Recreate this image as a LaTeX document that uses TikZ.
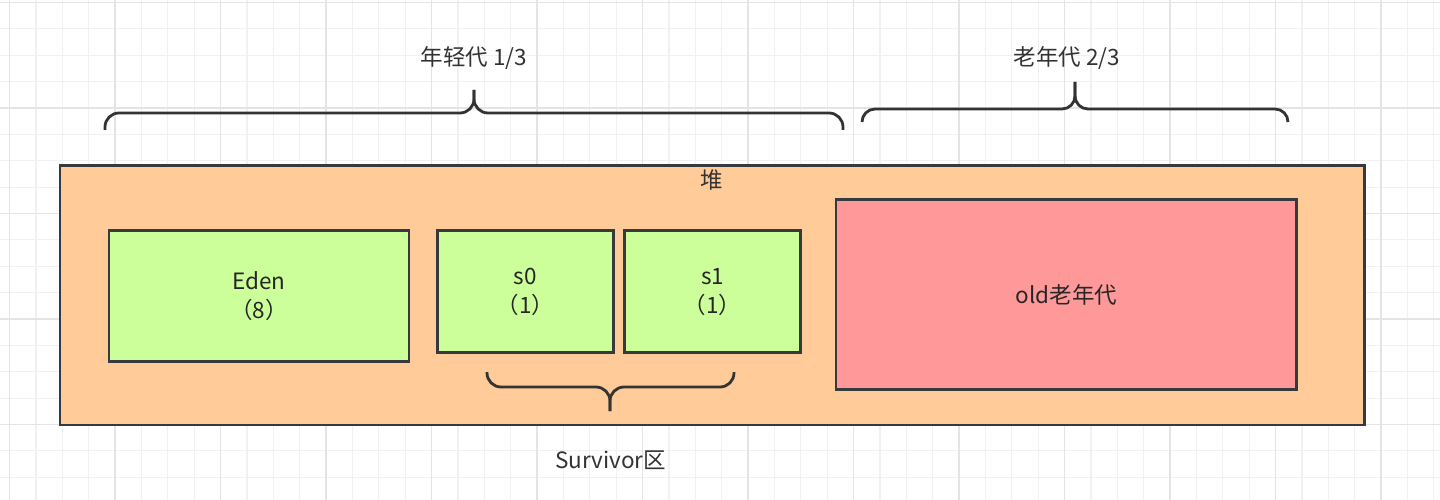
\documentclass[tikz,border=0pt]{standalone}
\usepackage{fontspec}
\setmainfont{Noto Sans CJK SC}
\definecolor{gridminor}{HTML}{F1F1F1}
\definecolor{gridmajor}{HTML}{E4E4E4}
\definecolor{strokec}{HTML}{36393D}
\definecolor{bracec}{HTML}{333333}
\definecolor{textc}{HTML}{333333}
\definecolor{innertext}{HTML}{262626}
\definecolor{heapfill}{HTML}{FFCC99}
\definecolor{greenfill}{HTML}{CCFF99}
\definecolor{oldfill}{HTML}{FF9999}
\newcommand{\lblfont}{\fontsize{22.5}{29}\selectfont}
\begin{document}
\begin{tikzpicture}[x=1pt,y=-1pt,
  minorgrid/.style={draw=gridminor, line width=1.2pt},
  majorgrid/.style={draw=gridmajor, line width=1.6pt},
  area/.style={draw=strokec, line width=2.8pt, inner sep=0pt, font=\lblfont, text=innertext, align=center},
  bracket/.style={draw=bracec, line width=2.8pt, rounded corners=14pt},
  lbl/.style={font=\lblfont, text=textc, inner sep=0pt, align=center}]
\useasboundingbox (0,0) rectangle (1440,500);
\fill[white] (0,0) rectangle (1440,500);
\begin{scope}
\clip (0,0) rectangle (1440,500);
\foreach \k in {0,...,56} {\draw[minorgrid] ({9.6+(\k-1)*26.375},0) -- ++(0,500);}
\foreach \k in {0,...,21} {\draw[minorgrid] (0,{2.5+(\k-1)*26.375}) -- ++(1440,0);}
\foreach \k in {0,...,14} {\draw[majorgrid] ({9.6+\k*105.5},0) -- ++(0,500);}
\foreach \k in {0,...,5} {\draw[majorgrid] (0,{2.5+\k*105.5}) -- ++(1440,0);}
\end{scope}

% heap
\node[area, fill=heapfill, minimum width=1304.5pt, minimum height=259.5pt] (heap) at (712.25,295.25) {};
\node[lbl] (heaplabel) at (711.7,180) {堆};

% young generation
\node[area, fill=greenfill, minimum width=300pt, minimum height=131pt] (eden) at (259,296) {Eden\\（8）};
\node[area, fill=greenfill, minimum width=176pt, minimum height=122.3pt] (s0) at (525.3,291.6) {s0\\（1）};
\node[area, fill=greenfill, minimum width=176pt, minimum height=122.3pt] (s1) at (712.5,291.6) {s1\\（1）};

% old generation
\node[area, fill=oldfill, minimum width=460.7pt, minimum height=190pt] (old) at (1066.4,294.7) {old老年代};

% top labels
\node[lbl] (younglabel) at (473.7,58) {年轻代 1/3};
\node[lbl] (oldlabel) at (1067,58.5) {老年代 2/3};
\node[lbl] (survlabel) at (610.5,460) {Survivor区};

% braces
\draw[bracket] (105,130) -- (105,113) -- (474,113) -- (474,90);
\draw[bracket] (474,90) -- (474,113) -- (843,113) -- (843,130);
\draw[bracket, rounded corners=13pt] (862,122) -- (862,109) -- (1075,109) -- (1075,82);
\draw[bracket, rounded corners=13pt] (1075,82) -- (1075,109) -- (1288,109) -- (1288,122);
\draw[bracket] (487,372) -- (487,387) -- (610,387) -- (610,411);
\draw[bracket] (610,411) -- (610,387) -- (734,387) -- (734,372);
\end{tikzpicture}
\end{document}
